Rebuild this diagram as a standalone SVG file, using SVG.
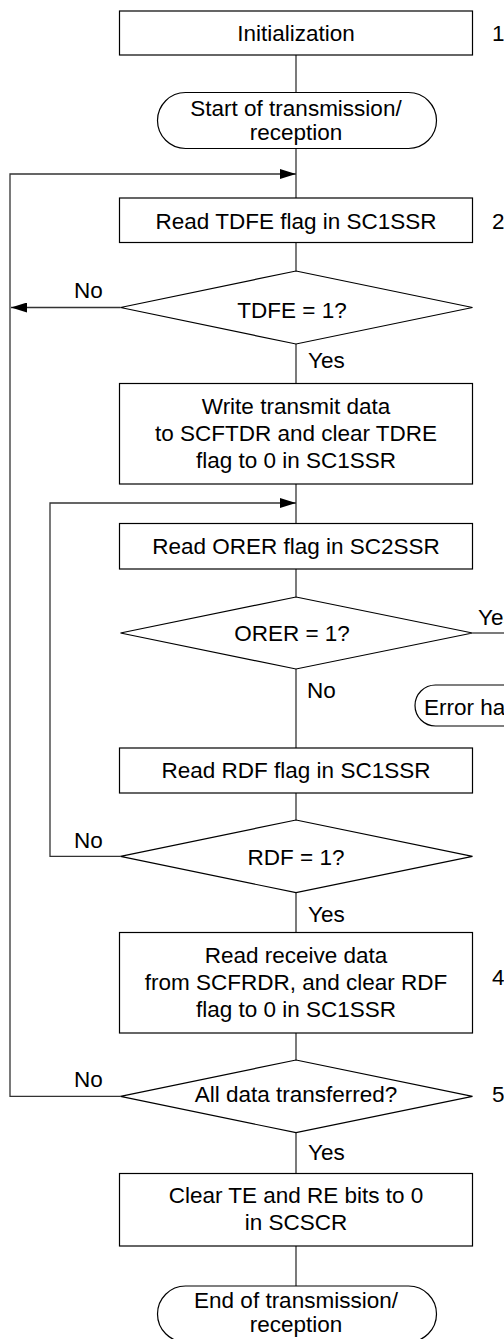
<svg xmlns="http://www.w3.org/2000/svg" width="504" height="1339" viewBox="0 0 504 1339">
<style>
.box{fill:#fff;stroke:#000;stroke-width:1.2}
.t{font-family:"Liberation Sans",Arial,sans-serif;font-size:22.5px;fill:#000}
.c{text-anchor:middle}
.ln{fill:none;stroke:#333;stroke-width:1.3}
</style>
<defs>
<marker id="arr" markerUnits="userSpaceOnUse" markerWidth="16" markerHeight="10" refX="16" refY="5" orient="auto">
<path d="M0,0 L16,5 L0,10 z" fill="#000"/>
</marker>
</defs>
<rect width="504" height="1339" fill="#fff"/>
<g id="connectors">
<line class="ln" x1="296" y1="55" x2="296" y2="92.5"/>
<line class="ln" x1="296" y1="148.5" x2="296" y2="198"/>
<path class="ln" d="M120.5,1096.3 H10 V174 H296" marker-end="url(#arr)"/>
<line class="ln" x1="296" y1="242.5" x2="296" y2="271"/>
<path class="ln" d="M120.5,307.5 H11" marker-end="url(#arr)"/>
<line class="ln" x1="296" y1="344" x2="296" y2="383.5"/>
<line class="ln" x1="296" y1="484" x2="296" y2="523.5"/>
<path class="ln" d="M120.5,856.3 H50 V503 H296" marker-end="url(#arr)"/>
<line class="ln" x1="296" y1="569" x2="296" y2="597"/>
<line class="ln" x1="296" y1="669" x2="296" y2="748"/>
<line class="ln" x1="472.5" y1="633" x2="504" y2="633"/>
<line class="ln" x1="296" y1="793" x2="296" y2="820"/>
<line class="ln" x1="296" y1="893" x2="296" y2="932.5"/>
<line class="ln" x1="296" y1="1033" x2="296" y2="1060"/>
<line class="ln" x1="296" y1="1132.7" x2="296" y2="1173.5"/>
<line class="ln" x1="296" y1="1246" x2="296" y2="1286"/>
<text class="t" x="74" y="298">No</text>
<text class="t" x="308" y="368">Yes</text>
<text class="t" x="478" y="625">Yes</text>
<text class="t" x="307" y="698">No</text>
<text class="t" x="74" y="848">No</text>
<text class="t" x="308" y="922">Yes</text>
<text class="t" x="74" y="1087">No</text>
<text class="t" x="308" y="1160">Yes</text>
</g>
<g id="init">
<rect class="box" x="119.5" y="11" width="353" height="44"/>
<text class="t c" x="296" y="41">Initialization</text>
<text class="t" x="492" y="41">1</text>
</g>
<g id="start">
<rect class="box" x="157.5" y="92.5" width="279" height="56" rx="28" ry="28"/>
<text class="t c" x="296" y="116">Start of transmission/</text>
<text class="t c" x="296" y="139.5">reception</text>
</g>
<g id="readTDFE">
<rect class="box" x="119.5" y="198" width="353" height="44.5"/>
<text class="t c" x="296" y="229">Read TDFE flag in SC1SSR</text>
<text class="t" x="492" y="229">2</text>
</g>
<g id="tdfeCheck">
<polygon class="box" points="296,271 472.5,307.5 296,344 120.5,307.5"/>
<text class="t c" x="292" y="318">TDFE = 1?</text>
</g>
<g id="writeData">
<rect class="box" x="119.5" y="383.5" width="353" height="100.5"/>
<text class="t c" x="296" y="414">Write transmit data</text>
<text class="t c" x="296" y="441">to SCFTDR and clear TDRE</text>
<text class="t c" x="296" y="468">flag to 0 in SC1SSR</text>
</g>
<g id="readORER">
<rect class="box" x="119.5" y="523.5" width="353" height="45.5"/>
<text class="t c" x="296" y="554">Read ORER flag in SC2SSR</text>
</g>
<g id="ororCheck">
<polygon class="box" points="296,597 472.5,633 296,669 120.5,633"/>
<text class="t c" x="292" y="641">ORER = 1?</text>
</g>
<g id="errorHandling">
<rect class="box" x="415" y="685" width="220" height="41" rx="20.5" ry="20.5"/>
<text class="t" x="424" y="715">Error handling</text>
</g>
<g id="readRDF">
<rect class="box" x="119.5" y="748" width="353" height="45"/>
<text class="t c" x="296" y="778">Read RDF flag in SC1SSR</text>
</g>
<g id="rdfCheck">
<polygon class="box" points="296,820 472.5,856.3 296,892.7 120.5,856.3"/>
<text class="t c" x="296" y="865">RDF = 1?</text>
</g>
<g id="readData">
<rect class="box" x="119.5" y="932.5" width="353" height="100.5"/>
<text class="t c" x="296" y="963">Read receive data</text>
<text class="t c" x="296" y="990">from SCFRDR, and clear RDF</text>
<text class="t c" x="296" y="1017">flag to 0 in SC1SSR</text>
<text class="t" x="492" y="985">4</text>
</g>
<g id="allCheck">
<polygon class="box" points="296,1060 472.5,1096.3 296,1132.7 120.5,1096.3"/>
<text class="t c" x="296" y="1102">All data transferred?</text>
<text class="t" x="492" y="1102">5</text>
</g>
<g id="clearBits">
<rect class="box" x="119.5" y="1173.5" width="353" height="72.5"/>
<text class="t c" x="296" y="1203">Clear TE and RE bits to 0</text>
<text class="t c" x="296" y="1230">in SCSCR</text>
</g>
<g id="end">
<rect class="box" x="157.5" y="1286" width="279" height="56" rx="28" ry="28"/>
<text class="t c" x="296" y="1308">End of transmission/</text>
<text class="t c" x="296" y="1331.5">reception</text>
</g>
</svg>
